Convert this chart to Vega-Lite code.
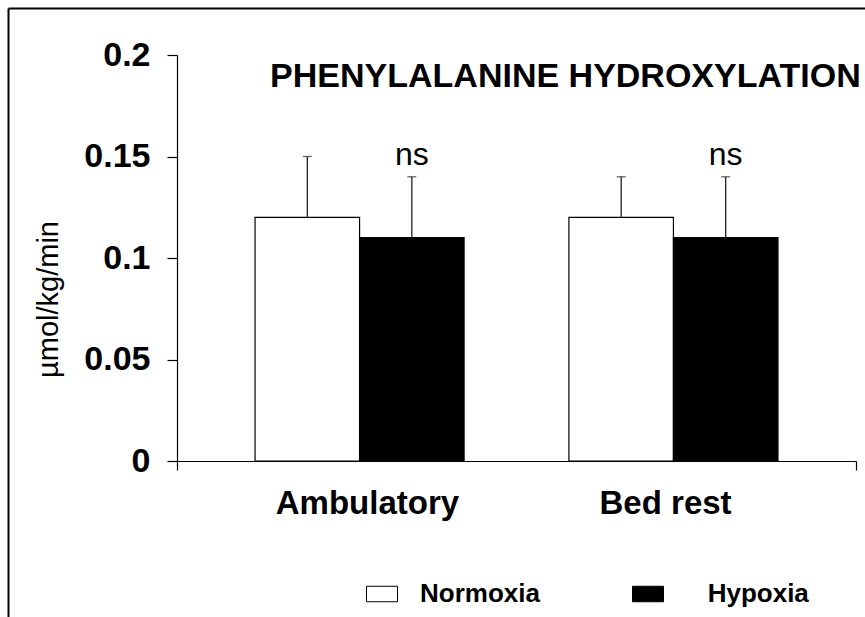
{
  "$schema": "https://vega.github.io/schema/vega-lite/v6.json",
  "autosize": {"type": "none"},
  "width": 857,
  "height": 609,
  "padding": {"left": 8, "top": 8, "right": 0, "bottom": 0},
  "background": "white",
  "config": {"view": {"stroke": null}, "font": "Liberation Sans"},
  "title": {
    "text": "PHENYLALANINE HYDROXYLATION",
    "anchor": "end",
    "orient": "top",
    "offset": 0,
    "baseline": "alphabetic",
    "dy": 116,
    "dx": -7,
    "font": "Liberation Sans",
    "fontSize": 34,
    "fontWeight": "bold",
    "color": "black"
  },
  "datasets": {
    "bars": [
      {"period": "Ambulatory", "condition": "Normoxia", "mean": 0.12, "upper": 0.15, "sig": ""},
      {"period": "Ambulatory", "condition": "Hypoxia", "mean": 0.11, "upper": 0.14, "sig": "ns"},
      {"period": "Bed rest", "condition": "Normoxia", "mean": 0.12, "upper": 0.14, "sig": ""},
      {"period": "Bed rest", "condition": "Hypoxia", "mean": 0.11, "upper": 0.14, "sig": "ns"}
    ],
    "frame": [{"f": 0}, {"f": 1}]
  },
  "layer": [
    {
      "data": {"name": "frame"},
      "mark": {"type": "point", "opacity": 0},
      "encoding": {
        "x": {"field": "f", "type": "quantitative", "scale": {"domain": [0, 1], "nice": false, "zero": false},
          "axis": {"orient": "bottom", "offset": -609, "domain": true, "domainColor": "black", "domainWidth": 2, "ticks": false, "labels": false, "grid": false, "title": null}},
        "y": {"field": "f", "type": "quantitative", "scale": {"domain": [0, 1], "nice": false, "zero": false},
          "axis": {"orient": "left", "domain": true, "domainColor": "black", "domainWidth": 2, "ticks": false, "labels": false, "grid": false, "title": null}}
      }
    },
    {
      "data": {"name": "frame"},
      "mark": {"type": "point", "opacity": 0},
      "encoding": {
        "x": {"field": "f", "type": "quantitative", "scale": {"domain": [0, 1], "range": [169, 848], "nice": false, "zero": false},
          "axis": {"orient": "bottom", "offset": -156, "values": [0, 1], "domain": false, "ticks": true, "tickSize": 9, "tickColor": "black", "tickWidth": 1.2, "labels": false, "grid": false, "title": null}}
      }
    },
    {
      "data": {"name": "bars"},
      "encoding": {
        "x": {"field": "period", "type": "nominal", "sort": ["Ambulatory", "Bed rest"],
          "scale": {"range": [169, 848], "paddingInner": 0.334, "paddingOuter": 0.2487},
          "axis": {"orient": "bottom", "offset": -156, "domain": true, "domainColor": "black", "domainWidth": 1.2, "ticks": false, "labelAngle": 0, "labelFontSize": 33, "labelFontWeight": "bold", "labelColor": "black", "labelBaseline": "alphabetic", "labelPadding": 52, "labelLimit": 0, "title": null, "grid": false,
            "labelExpr": "datum.value == 'Ambulatory' ? '\u200b\u00a0\u2009Ambulatory' : 'Bed rest\u00a0\u2009\u200b'"}},
        "xOffset": {"field": "condition", "type": "nominal", "sort": ["Normoxia", "Hypoxia"], "scale": {"paddingInner": 0, "paddingOuter": 0}},
        "y": {"field": "mean", "type": "quantitative",
          "scale": {"domain": [0, 0.2], "range": [453, 47], "nice": false, "zero": true},
          "axis": {"orient": "left", "offset": -169, "values": [0, 0.05, 0.1, 0.15, 0.2], "format": "~g", "domainColor": "black", "domainWidth": 1.2, "tickColor": "black", "tickSize": 10, "tickWidth": 1.2, "labelFontSize": 34, "labelFontWeight": "bold", "labelColor": "black", "labelPadding": 17, "grid": false,
            "title": "µmol/kg/min", "titleFontSize": 29, "titleFontWeight": "normal", "titleColor": "black", "titleX": -120, "titleY": 291, "titleBaseline": "alphabetic", "titleAlign": "center", "titleAngle": -90}}
      },
      "layer": [
        {
          "mark": {"type": "bar", "stroke": "black", "strokeWidth": 1.2},
          "encoding": {
            "fill": {"field": "condition", "type": "nominal", "sort": ["Normoxia", "Hypoxia"],
              "scale": {"domain": ["Normoxia", "Hypoxia"], "range": ["white", "black"]},
              "legend": {"orient": "none", "legendX": 358, "legendY": 570, "direction": "horizontal", "title": null,
                "symbolType": "M-1,-0.5H1V0.5H-1Z", "symbolSize": 961, "symbolStrokeColor": "black", "symbolStrokeWidth": 1, "symbolOpacity": 1,
                "labelExpr": "datum.value == 'Hypoxia' ? '\u200b\u00a0\u00a0\u00a0Hypoxia' : datum.label",
                "labelFontSize": 26, "labelFontWeight": "bold", "labelColor": "black", "labelOffset": 22, "columnPadding": 90, "padding": 0}}
          }
        },
        {
          "mark": {"type": "rule", "color": "#222", "strokeWidth": 1.3},
          "encoding": {"y2": {"field": "upper"}}
        },
        {
          "mark": {"type": "tick", "orient": "horizontal", "size": 9, "thickness": 1.3, "color": "#222"},
          "encoding": {"y": {"field": "upper", "type": "quantitative"}}
        },
        {
          "mark": {"type": "text", "fontSize": 32, "baseline": "alphabetic", "dy": -12, "color": "black"},
          "encoding": {"y": {"field": "upper", "type": "quantitative"}, "text": {"field": "sig"}}
        }
      ]
    }
  ],
  "resolve": {"scale": {"x": "independent", "y": "independent"}}
}
